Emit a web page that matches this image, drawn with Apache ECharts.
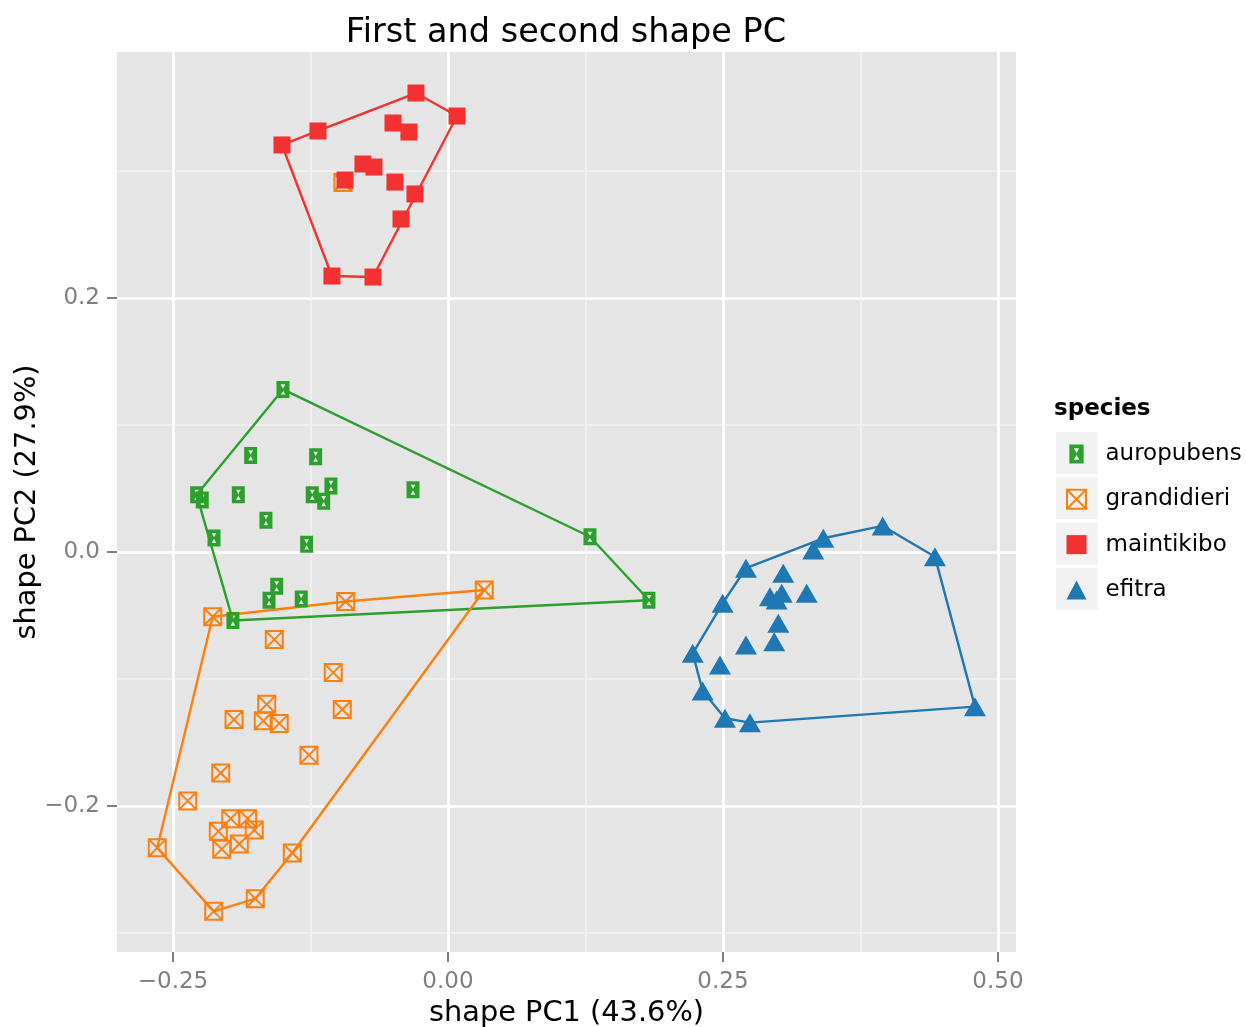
<!DOCTYPE html>
<html>
<head>
<meta charset="utf-8">
<title>First and second shape PC</title>
<script src="https://cdn.jsdelivr.net/npm/echarts@6/dist/echarts.min.js"></script>
<style>
  html, body { margin: 0; padding: 0; background: #ffffff; }
  #pcChart { width: 1246px; height: 1027px; }
</style>
</head>
<body>
<div id="pcChart"></div>
<script>
// --- data (shape PC1, shape PC2) --------------------------------------------

var speciesNames = ['auropubens', 'grandidieri', 'maintikibo', 'efitra'];

var auropubens = [
	[-0.150, 0.128], [-0.2285, 0.045], [-0.2234, 0.041], [-0.2127, 0.011],
	[-0.1955, -0.054], [-0.1794, 0.076], [-0.1906, 0.045], [-0.1203, 0.075],
	[-0.1064, 0.052], [-0.1234, 0.045], [-0.113, 0.040], [-0.1655, 0.025],
	[-0.1285, 0.006], [-0.0318, 0.049], [-0.1557, -0.027], [-0.1627, -0.038],
	[-0.1334, -0.037], [0.1291, 0.012], [0.1827, -0.038]
];

var grandidieri = [
	[-0.2139, -0.051], [0.033, -0.030], [-0.093, -0.039], [-0.1579, -0.069],
	[-0.1043, -0.095], [-0.0961, -0.124], [-0.1648, -0.120], [-0.1945, -0.132],
	[-0.1679, -0.133], [-0.1534, -0.135], [-0.1264, -0.160], [-0.2066, -0.174],
	[-0.2366, -0.196], [-0.1975, -0.210], [-0.1821, -0.210], [-0.2088, -0.220],
	[-0.1761, -0.219], [-0.2057, -0.234], [-0.1897, -0.230], [-0.2643, -0.233],
	[-0.1415, -0.237], [-0.1752, -0.273], [-0.213, -0.283]
];
// one grandidieri point sits under the maintikibo cluster
var grandidieriStray = [[-0.0955, 0.291]];

var maintikibo = [
	[-0.1509, 0.3205], [-0.1182, 0.3315], [-0.0291, 0.3614], [0.0082, 0.3433],
	[-0.030, 0.2819], [-0.0427, 0.2622], [-0.0682, 0.2165], [-0.1055, 0.2173],
	[-0.050, 0.3378], [-0.0355, 0.3307], [-0.0773, 0.3055], [-0.0673, 0.3031],
	[-0.0936, 0.2929], [-0.0482, 0.2913]
];

var efitra = [
	[0.3952, 0.0205], [0.4427, -0.0037], [0.3412, 0.0108], [0.3321, 0.0016],
	[0.2709, -0.0128], [0.2497, -0.0404], [0.2225, -0.0798], [0.2315, -0.1094],
	[0.2518, -0.1309], [0.2745, -0.1344], [0.4791, -0.1218], [0.3048, -0.0168],
	[0.2927, -0.0352], [0.3034, -0.0325], [0.2988, -0.0378], [0.3261, -0.0325],
	[0.3003, -0.0561], [0.2709, -0.0732], [0.2966, -0.0706], [0.2473, -0.089]
];

var xTicks = [-0.25, 0, 0.25, 0.5];
var xMinorTicks = [-0.125, 0.125, 0.375];
var yTicks = [-0.2, 0, 0.2];
var yMinorTicks = [-0.3, -0.1, 0.1, 0.3];

// ----------------------------------------------------------------------------

var colors = ['#2ca02c', '#ff7f0e', '#f33131', '#1f77b4'];
var pointSets = [auropubens, grandidieri.concat(grandidieriStray), maintikibo, efitra];
var hullSets = [auropubens, grandidieri, maintikibo, efitra];

// green: filled rect with two small white triangles cut out
var symAuro = 'path://M0 0L12 0L12 16L0 16Z M3.8 3.2L6 7.4L8.2 3.2Z M3.8 12.8L8.2 12.8L6 8.6Z';
// orange: square outline with a cross
var symGrand = 'path://M0 0L16 0L16 16L0 16Z M0 0L16 16 M16 0L0 16';

var symbols = [symAuro, symGrand, 'rect', 'triangle'];
var symbolSizes = [[13, 17], [17, 17], [17, 17], [22, 19]];

// convex hull (monotone chain), same idea as chull() in R
function convexHull(pts) {
	var p = pts.slice().sort(function (a, b) { return a[0] - b[0] || a[1] - b[1]; });
	function cross(o, a, b) { return (a[0] - o[0]) * (b[1] - o[1]) - (a[1] - o[1]) * (b[0] - o[0]); }
	var lower = [], upper = [];
	for (var i = 0; i < p.length; i++) {
		while (lower.length >= 2 && cross(lower[lower.length - 2], lower[lower.length - 1], p[i]) <= 0) lower.pop();
		lower.push(p[i]);
	}
	for (var j = p.length - 1; j >= 0; j--) {
		while (upper.length >= 2 && cross(upper[upper.length - 2], upper[upper.length - 1], p[j]) <= 0) upper.pop();
		upper.push(p[j]);
	}
	upper.pop(); lower.pop();
	var hull = lower.concat(upper);
	hull.push(hull[0]);
	return hull;
}

function fmtMinus(s) { return s.replace('-', '\u2212'); }

var fontName = '"DejaVu Sans", "Liberation Sans", Arial, sans-serif';
var tickGrey = '#7f7f7f';

var series = [];
for (var i = 0; i < speciesNames.length; i++) {
	series.push({
		name: speciesNames[i] + ' hull',
		type: 'line',
		data: convexHull(hullSets[i]),
		symbol: 'none',
		silent: true,
		z: 2,
		lineStyle: { color: colors[i], width: 2.4 },
		itemStyle: { color: colors[i] }
	});
}
for (var k = 0; k < speciesNames.length; k++) {
	var itemStyle = { color: colors[k], opacity: 1 };
	if (k === 1) {
		itemStyle = { color: 'rgba(0,0,0,0)', borderColor: colors[k], borderWidth: 2, opacity: 1 };
	}
	series.push({
		name: speciesNames[k],
		type: 'scatter',
		data: pointSets[k],
		symbol: symbols[k],
		symbolSize: symbolSizes[k],
		z: 3 + k,
		itemStyle: itemStyle,
		emphasis: { disabled: true }
	});
}

// grey legend key boxes, ggplot style
var legendBoxes = [];
for (var b = 0; b < speciesNames.length; b++) {
	legendBoxes.push({
		type: 'rect',
		left: 1055,
		top: 431 + b * 45.3,
		shape: { width: 43, height: 43 },
		style: { fill: '#f2f2f2', stroke: '#ffffff', lineWidth: 1 },
		z: -1
	});
}

var eChart = echarts.init(document.getElementById('pcChart'));

var eChartOption = {
	backgroundColor: '#ffffff',
	animation: false,
	title: [
		{
			text: 'First and second shape PC',
			left: 566,
			textAlign: 'center',
			top: 16,
			padding: 0,
			textStyle: { fontFamily: fontName, fontSize: 33.5, fontWeight: 'normal', color: '#000000' }
		},
		{
			text: 'species',
			left: 1054,
			top: 398,
			padding: 0,
			textStyle: { fontFamily: fontName, fontSize: 23, fontWeight: 'bold', color: '#000000' }
		}
	],
	legend: {
		data: speciesNames,
		orient: 'vertical',
		left: 1066,
		top: 442.5,
		padding: 0,
		itemWidth: 20,
		itemHeight: 19,
		itemGap: 22.3,
		selectedMode: false,
		textStyle: { fontFamily: fontName, fontSize: 23, color: '#000000', padding: [0, 0, 0, 14] }
	},
	graphic: legendBoxes,
	grid: {
		left: 117,
		right: 230,
		top: 52,
		bottom: 75,
		outerBoundsMode: 'none',
		containLabel: false,
		show: true,
		backgroundColor: '#e5e5e5',
		borderWidth: 0
	},
	xAxis: [
		{
			type: 'value',
			min: -0.3009,
			max: 0.5164,
			name: 'shape PC1 (43.6%)',
			nameLocation: 'middle',
			nameGap: 47,
			nameMoveOverlap: false,
			nameTextStyle: { fontFamily: fontName, fontSize: 28.8, color: '#000000' },
			axisLine: { show: false, onZero: false },
			axisTick: { show: true, length: 10, customValues: xTicks, lineStyle: { color: tickGrey, width: 2 } },
			axisLabel: {
				customValues: xTicks,
				margin: 19,
				fontFamily: fontName,
				fontSize: 23,
				color: tickGrey,
				formatter: function (v) { return fmtMinus(v.toFixed(2)); }
			},
			splitLine: { show: true, lineStyle: { color: '#ffffff', width: 2.6 } }
		},
		{
			type: 'value',
			min: -0.3009,
			max: 0.5164,
			position: 'bottom',
			axisLine: { show: false, onZero: false },
			axisTick: { show: false, customValues: xMinorTicks },
			axisLabel: { show: false, customValues: xMinorTicks },
			splitLine: { show: true, lineStyle: { color: '#f2f2f2', width: 1.5 } }
		}
	],
	yAxis: [
		{
			type: 'value',
			min: -0.315,
			max: 0.3937,
			name: 'shape PC2 (27.9%)',
			nameLocation: 'middle',
			nameGap: 75,
			nameMoveOverlap: false,
			nameTextStyle: { fontFamily: fontName, fontSize: 28.8, color: '#000000' },
			axisLine: { show: false, onZero: false },
			axisTick: { show: true, length: 10, customValues: yTicks, lineStyle: { color: tickGrey, width: 2 } },
			axisLabel: {
				customValues: yTicks,
				margin: 17,
				fontFamily: fontName,
				fontSize: 23,
				color: tickGrey,
				formatter: function (v) { return fmtMinus(v.toFixed(1)); }
			},
			splitLine: { show: true, lineStyle: { color: '#ffffff', width: 2.6 } }
		},
		{
			type: 'value',
			min: -0.315,
			max: 0.3937,
			position: 'left',
			axisLine: { show: false, onZero: false },
			axisTick: { show: false, customValues: yMinorTicks },
			axisLabel: { show: false, customValues: yMinorTicks },
			splitLine: { show: true, lineStyle: { color: '#f2f2f2', width: 1.5 } }
		}
	],
	series: series
};

eChart.setOption(eChartOption);
</script>
</body>
</html>
